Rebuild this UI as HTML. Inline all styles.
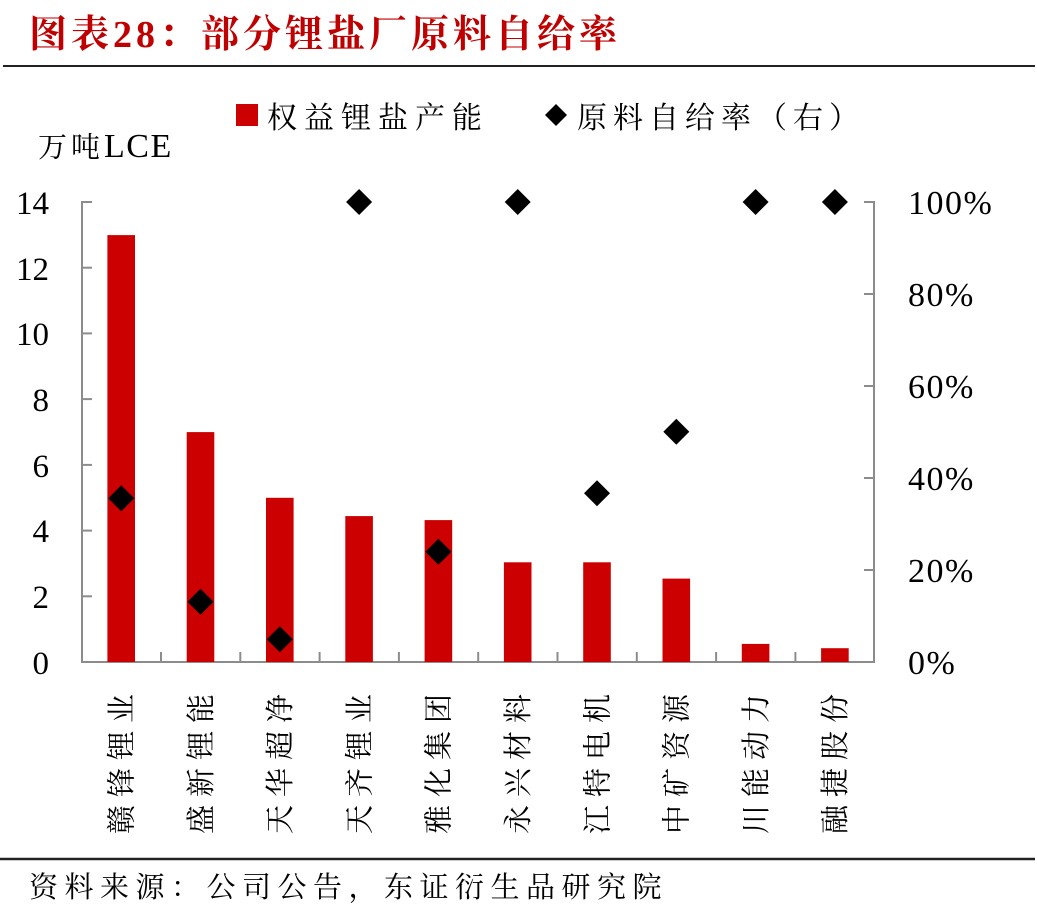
<!DOCTYPE html>
<html>
<head>
<meta charset="utf-8">
<style>
  html, body { margin:0; padding:0; background:#fff; }
  body { width:1037px; height:908px; overflow:hidden; }
  svg { display:block; }
  .cjk { font-family: "Liberation Serif", "Noto Serif CJK SC", serif; }
  .num { font-family: "Liberation Serif", serif; }
</style>
</head>
<body>
<svg width="1037" height="908" viewBox="0 0 1037 908" xmlns="http://www.w3.org/2000/svg">
  <!-- Title -->
  <text x="29" y="47" class="cjk" font-size="38" font-weight="bold" fill="#c00000" style="letter-spacing:4px">图表28：部分锂盐厂原料自给率</text>
  <line x1="3" y1="66" x2="1035" y2="66" stroke="#222" stroke-width="2"/>

  <!-- Legend -->
  <rect x="236" y="104" width="22" height="22" fill="#cc0000"/>
  <text x="267" y="128" class="cjk" font-size="30" fill="#000" style="letter-spacing:7px">权益锂盐产能</text>
  <polygon points="556,104 567,115 556,126 545,115" fill="#000"/>
  <text x="577" y="128" class="cjk" font-size="30" fill="#000" style="letter-spacing:6px">原料自给率（右）</text>

  <!-- Y axis unit -->
  <text x="38" y="157" class="cjk" font-size="29" fill="#000"><tspan style="letter-spacing:4px">万吨</tspan><tspan font-size="34" style="letter-spacing:1.5px">LCE</tspan></text>

  <!-- Axes -->
  <g stroke="#8c8c8c" stroke-width="2" fill="none">
    <line x1="82" y1="201" x2="82" y2="663"/>
    <line x1="81" y1="662" x2="875" y2="662"/>
    <line x1="874" y1="201" x2="874" y2="663"/>
    <!-- left ticks (inward) -->
    <line x1="82" y1="202" x2="92" y2="202"/>
    <line x1="82" y1="267.7" x2="92" y2="267.7"/>
    <line x1="82" y1="333.4" x2="92" y2="333.4"/>
    <line x1="82" y1="399.1" x2="92" y2="399.1"/>
    <line x1="82" y1="464.9" x2="92" y2="464.9"/>
    <line x1="82" y1="530.6" x2="92" y2="530.6"/>
    <line x1="82" y1="596.3" x2="92" y2="596.3"/>
    <!-- right ticks (inward) -->
    <line x1="864" y1="202" x2="874" y2="202"/>
    <line x1="864" y1="294" x2="874" y2="294"/>
    <line x1="864" y1="386" x2="874" y2="386"/>
    <line x1="864" y1="478" x2="874" y2="478"/>
    <line x1="864" y1="570" x2="874" y2="570"/>
    <!-- category ticks -->
    <line x1="161" y1="652" x2="161" y2="662"/>
    <line x1="240.3" y1="652" x2="240.3" y2="662"/>
    <line x1="319.6" y1="652" x2="319.6" y2="662"/>
    <line x1="398.9" y1="652" x2="398.9" y2="662"/>
    <line x1="478.2" y1="652" x2="478.2" y2="662"/>
    <line x1="557.5" y1="652" x2="557.5" y2="662"/>
    <line x1="636.8" y1="652" x2="636.8" y2="662"/>
    <line x1="716.1" y1="652" x2="716.1" y2="662"/>
    <line x1="795.4" y1="652" x2="795.4" y2="662"/>
  </g>

  <!-- Left tick labels -->
  <g class="num" font-size="33" fill="#000" text-anchor="end">
    <text x="49" y="214">14</text>
    <text x="49" y="280">12</text>
    <text x="49" y="345">10</text>
    <text x="49" y="411">8</text>
    <text x="49" y="477">6</text>
    <text x="49" y="542">4</text>
    <text x="49" y="608">2</text>
    <text x="49" y="674">0</text>
  </g>
  <!-- Right tick labels -->
  <g class="num" font-size="34" fill="#000" style="letter-spacing:1.5px">
    <text x="908" y="214">100%</text>
    <text x="908" y="306">80%</text>
    <text x="908" y="398">60%</text>
    <text x="908" y="490">40%</text>
    <text x="908" y="582">20%</text>
    <text x="908" y="674">0%</text>
  </g>

  <!-- Bars -->
  <g fill="#cc0000">
    <rect x="107.4" y="235.1" width="27.6" height="426.9"/>
    <rect x="186.7" y="432.1" width="27.6" height="229.9"/>
    <rect x="266.0" y="497.8" width="27.6" height="164.2"/>
    <rect x="345.3" y="516.1" width="27.6" height="145.9"/>
    <rect x="424.6" y="520.1" width="27.6" height="141.9"/>
    <rect x="503.9" y="562.3" width="27.6" height="99.7"/>
    <rect x="583.2" y="562.3" width="27.6" height="99.7"/>
    <rect x="662.5" y="578.6" width="27.6" height="83.4"/>
    <rect x="741.8" y="643.9" width="27.6" height="18.1"/>
    <rect x="821.1" y="648.2" width="27.6" height="13.8"/>
  </g>

  <!-- Diamonds -->
  <g fill="#000">
    <polygon points="121.2,485.3 134.2,498.3 121.2,511.3 108.2,498.3"/>
    <polygon points="200.5,588.7 213.5,601.7 200.5,614.7 187.5,601.7"/>
    <polygon points="279.8,626.3 292.8,639.3 279.8,652.3 266.8,639.3"/>
    <polygon points="359.1,189 372.1,202 359.1,215 346.1,202"/>
    <polygon points="438.4,538.7 451.4,551.7 438.4,564.7 425.4,551.7"/>
    <polygon points="517.7,189 530.7,202 517.7,215 504.7,202"/>
    <polygon points="597.0,480.3 610.0,493.3 597.0,506.3 584.0,493.3"/>
    <polygon points="676.3,418.7 689.3,431.7 676.3,444.7 663.3,431.7"/>
    <polygon points="755.6,189 768.6,202 755.6,215 742.6,202"/>
    <polygon points="834.9,189 847.9,202 834.9,215 821.9,202"/>
  </g>

  <!-- Category labels (rotated) -->
  <g class="cjk" font-size="29" fill="#000" style="letter-spacing:8px">
    <text transform="translate(131.5,834) rotate(-90)" x="0" y="0">赣锋锂业</text>
    <text transform="translate(210.8,834) rotate(-90)" x="0" y="0">盛新锂能</text>
    <text transform="translate(290.1,834) rotate(-90)" x="0" y="0">天华超净</text>
    <text transform="translate(369.4,834) rotate(-90)" x="0" y="0">天齐锂业</text>
    <text transform="translate(448.7,834) rotate(-90)" x="0" y="0">雅化集团</text>
    <text transform="translate(528.0,834) rotate(-90)" x="0" y="0">永兴材料</text>
    <text transform="translate(607.3,834) rotate(-90)" x="0" y="0">江特电机</text>
    <text transform="translate(686.6,834) rotate(-90)" x="0" y="0">中矿资源</text>
    <text transform="translate(765.9,834) rotate(-90)" x="0" y="0">川能动力</text>
    <text transform="translate(845.2,834) rotate(-90)" x="0" y="0">融捷股份</text>
  </g>

  <!-- Footer -->
  <line x1="0" y1="859" x2="1035" y2="859" stroke="#222" stroke-width="2.5"/>
  <text x="29" y="897" class="cjk" font-size="29" fill="#000" style="letter-spacing:6.5px">资料来源：公司公告，东证衍生品研究院</text>
</svg>
</body>
</html>
